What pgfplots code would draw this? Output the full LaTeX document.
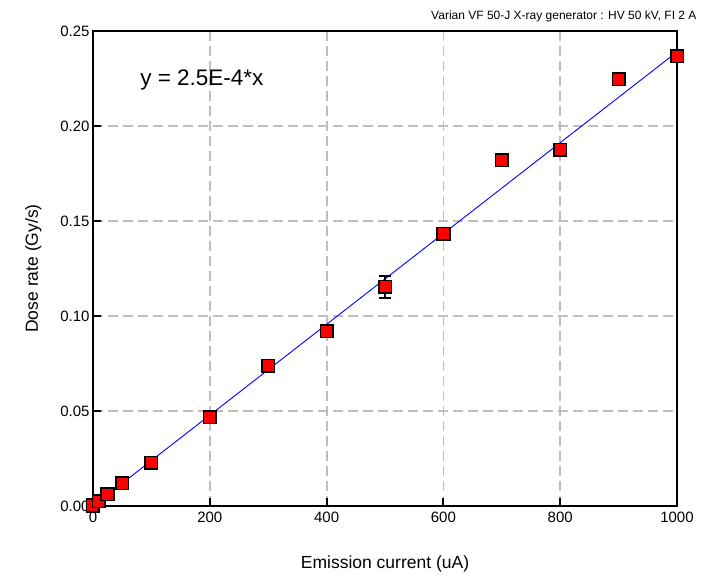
\documentclass[border=0pt]{standalone}
\usepackage{pgfplots}
\pgfplotsset{compat=1.18}
\usepackage{fontspec}
\setmainfont{Liberation Sans}
\begin{document}
\begin{tikzpicture}
\begin{axis}[
  scale only axis,
  width=584pt, height=475pt,
  xmin=0, xmax=1000, ymin=0, ymax=0.25,
  xtick={0,200,400,600,800,1000},
  ytick={0,0.05,0.10,0.15,0.20,0.25},
  /pgf/number format/assume math mode=true,
  xticklabel style={/pgf/number format/1000 sep={}},
  yticklabel style={/pgf/number format/fixed,/pgf/number format/fixed zerofill,/pgf/number format/precision=2},
  scaled y ticks=false,
  tick label style={font=\fontsize{15}{17}\selectfont},
  xlabel={Emission current (uA)},
  ylabel={Dose rate (Gy/s)},
  label style={font=\fontsize{17.5}{20}\selectfont},
  xlabel style={yshift=-27pt},
  ylabel style={yshift=12pt},
  grid=major,
  major grid style={black!25, dash pattern=on 10pt off 5pt, line width=1.8pt},
  axis line style={line width=2.2pt, black},
  tick style={line width=2pt, black},
  tick align=inside,
  major tick length=8pt,
  xtick pos=bottom, ytick pos=left,
  xticklabel style={yshift=-2pt},
  clip=false,
]
\addplot[blue, line width=0.9pt] coordinates {(0,0) (1000,0.239)};
\addplot[only marks, mark=square*, mark size=6.3pt,
  mark options={fill=red, draw=black, line width=1.6pt},
  error bars/.cd, y dir=both, y explicit,
  error bar style={line width=1.8pt, black},
  error mark options={rotate=90, mark size=6pt, line width=1.8pt}]
  coordinates {
  (0,0.0003) +- (0,0)
  (10,0.0025) +- (0,0)
  (25,0.0063) +- (0,0)
  (50,0.0120) +- (0,0)
  (100,0.0228) +- (0,0)
  (200,0.0468) +- (0,0)
  (300,0.0737) +- (0,0)
  (400,0.0921) +- (0,0)
  (500,0.1153) +- (0,0.0058)
  (600,0.1432) +- (0,0)
  (700,0.1820) +- (0,0)
  (800,0.1874) +- (0,0)
  (900,0.2247) +- (0,0)
  (1000,0.2368) +- (0,0)
  };
\node[anchor=west, font=\fontsize{22.5}{26}\selectfont] at (axis cs:75,0.224) {y = 2.5E-4*x};
\node[anchor=east, font=\fontsize{12}{14}\selectfont] at ([shift={(23pt,15pt)}]rel axis cs:1,1) {Varian VF 50-J X-ray generator : HV 50 kV, FI 2 A};
\coordinate (sw) at (rel axis cs:0,0);
\coordinate (ne) at (rel axis cs:1,1);
\end{axis}
\path ([shift={(-93pt,-76pt)}]sw) rectangle ([shift={(49pt,31pt)}]ne);
\end{tikzpicture}
\end{document}
